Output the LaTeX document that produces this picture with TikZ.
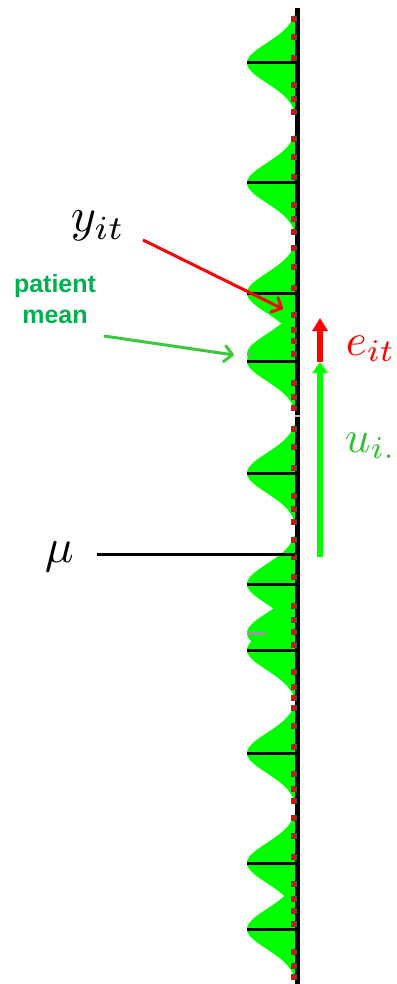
\documentclass[tikz,border=0pt]{standalone}
\usepackage{fontspec}
\newfontfamily\arialfont{Liberation Sans}
\usetikzlibrary{arrows.meta}
\definecolor{bell}{RGB}{0,255,0}
\definecolor{ptext}{RGB}{0,176,80}
\definecolor{parrow}{RGB}{60,200,60}
\definecolor{utext}{RGB}{51,190,51}
\tikzset{
  peakline/.style={draw=black, line width=3pt},
  grayline/.style={draw=gray!80, line width=3pt},
  axisline/.style={draw=black, line width=5pt},
  sqmark/.style={draw=black!70, fill=red, line width=0.6pt, minimum size=4.5pt, inner sep=0pt, rectangle},
  redarrow/.style={draw=red, line width=3pt, -{Straight Barb[length=8pt,width=16pt,line cap=round,line join=round]}},
  grnarrow/.style={draw=parrow, line width=3pt, -{Straight Barb[length=8pt,width=16pt,line cap=round,line join=round]}},
  redvert/.style={draw=red, line width=6pt, -{Triangle[length=13pt,width=15pt]}},
  grnvert/.style={draw=bell, line width=6pt, -{Triangle[length=11pt,width=15pt]}},
  mulabel/.style={anchor=base west, inner sep=0pt, font=\fontsize{10}{12}\selectfont, scale=4.8},
  sidelabel/.style={anchor=base west, inner sep=0pt, font=\fontsize{10}{12}\selectfont, scale=4.5},
}
\begin{document}
\begin{tikzpicture}[x=1pt,y=-1pt]
\useasboundingbox (0,0) rectangle (396,984);
% bell curves
\foreach \p in {63,183,293,354,361,473,584,633,650,753,863,929} {
  \fill[bell] (297,\p-48) -- plot[domain=-48:48,samples=61] ({297-50*exp(-(\x)*(\x)/800)},{\p+\x}) -- (297,\p+48) -- cycle;
}
% gray hidden peak lines
\coordinate (g1a) at (247,633); \coordinate (g1b) at (265,633);
\draw[grayline] (g1a) -- (g1b);
\coordinate (g2a) at (247,354); \coordinate (g2b) at (251,354);
\draw[grayline, line width=2pt] (g2a) -- (g2b);
% peak lines
\foreach \p in {63,183,293,361,473,584,650,753,863,929} {
  \coordinate (pk\p) at (247,\p);
  \coordinate (ax\p) at (297,\p);
  \draw[peakline] (pk\p) -- (ax\p);
}
% axis
\coordinate (axtop) at (297.5,8);
\coordinate (axbot) at (297.5,984);
\draw[axisline] (axtop) -- (axbot);
\coordinate (gapl) at (295,416); \coordinate (gapr) at (300,416);
\draw[draw=gray!50, line width=1.5pt] (gapl) -- (gapr);
% red squares
\foreach \y [count=\i] in {19,37,58,85,99,112,139,157,177,205,219,232,248,267,288,315,330,341,354,383,397,408,429,447,468,496,509,522,540,557,577,606,620,632,645,672,687,698,708,726,747,774,789,801,818,836,857,884,899,911,924,952,966,977} {
  \node[sqmark] (sq\i) at (294,\y) {};
}
% mu line
\coordinate (mustart) at (97,554);
\coordinate (muend) at (295,554);
\draw[peakline] (mustart) -- (muend);
\node[mulabel] (mu) at (44,562) {$\mu$};
% y_it
\node[mulabel] (yit) at (70,232) {$y_{it}$};
\coordinate (ytail) at (143,240);
\coordinate (yhead) at (283,309);
\draw[redarrow] (ytail) -- (yhead);
% patient mean
\node[font=\arialfont\bfseries\fontsize{25}{31}\selectfont, text=ptext, align=center, inner sep=0pt, anchor=base] (pm) at (55,323) {patient\\mean};
\coordinate (ptail) at (104,336);
\coordinate (phead) at (234,355);
\draw[grnarrow] (ptail) -- (phead);
% vertical arrows
\coordinate (ubot) at (320,557);
\coordinate (utop) at (320,362);
\coordinate (etop) at (320,318);
\draw[grnvert] (ubot) -- (utop);
\draw[redvert] (utop) -- (etop);
\node[sidelabel, text=red] (eit) at (345,355) {$e_{it}$};
\node[sidelabel, text=utext] (ui) at (344,452) {$u_{i.}$};
\end{tikzpicture}
\end{document}
